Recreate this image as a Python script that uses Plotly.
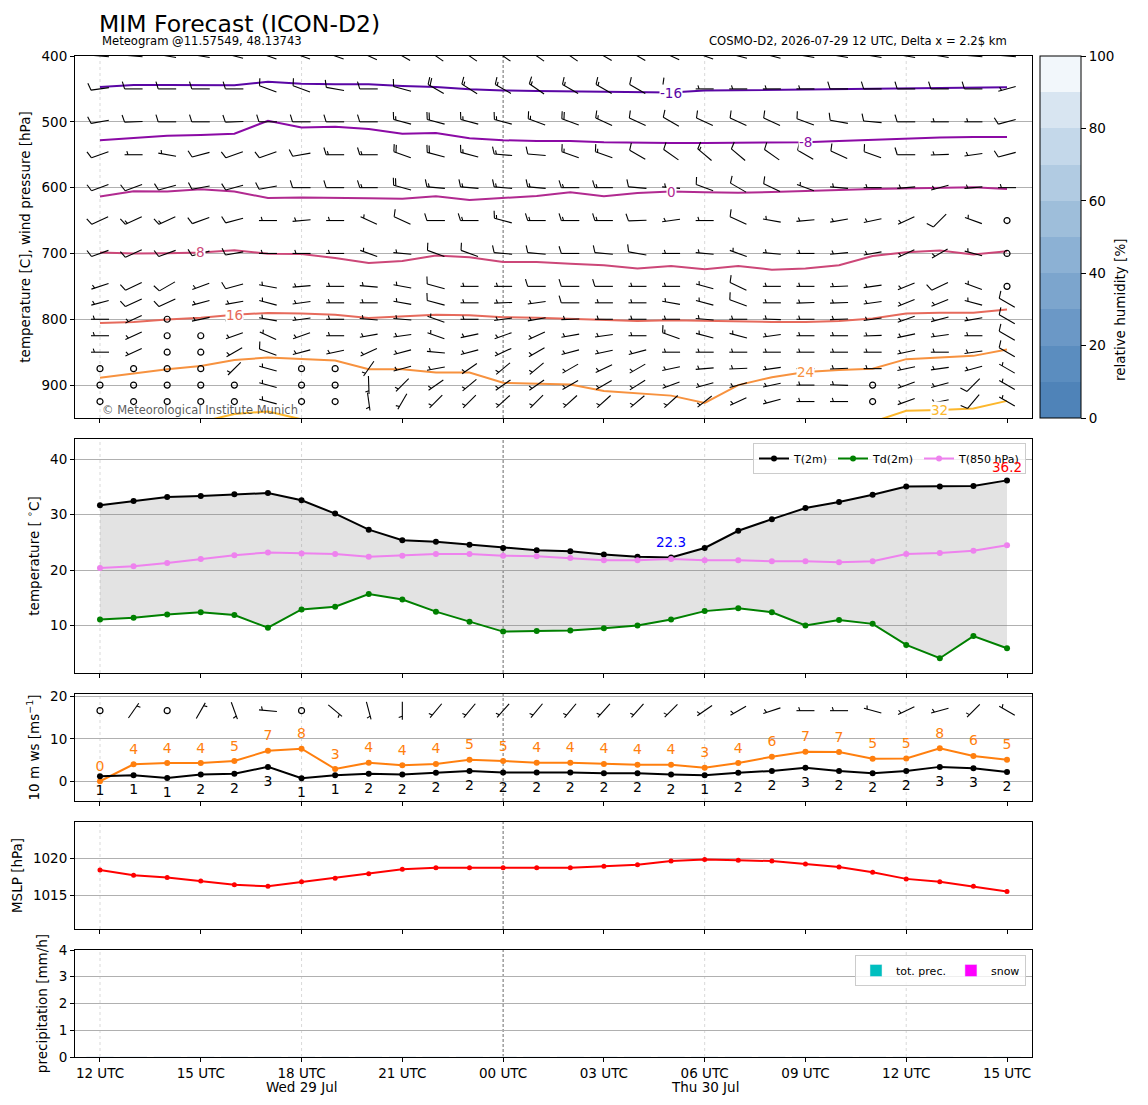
import numpy as np
import plotly.graph_objects as go

# ---------------------------------------------------------------- data
hours = list(range(28))  # hours since 2026-07-29 12 UTC
tick_hours = [0, 3, 6, 9, 12, 15, 18, 21, 24, 27]
tick_labels = ["12 UTC", "15 UTC", "18 UTC", "21 UTC", "00 UTC",
               "03 UTC", "06 UTC", "09 UTC", "12 UTC", "15 UTC"]
day_hours = [6, 18]
day_labels = ["Wed 29 Jul", "Thu 30 Jul"]

t2m = [31.7, 32.5, 33.2, 33.4, 33.7, 33.9, 32.6, 30.2, 27.3, 25.4, 25.1, 24.6, 24.0, 23.6,
       23.4, 22.8, 22.4, 22.3, 24.0, 27.1, 29.2, 31.2, 32.3, 33.6, 35.1, 35.1, 35.2, 36.2]
td2m = [11.1, 11.4, 12.0, 12.4, 11.9, 9.6, 12.9, 13.4, 15.7, 14.7, 12.5, 10.7, 8.9, 9.0,
        9.1, 9.5, 10.0, 11.1, 12.6, 13.1, 12.4, 10.0, 11.0, 10.3, 6.5, 4.1, 8.1, 5.9]
t850 = [20.4, 20.7, 21.3, 22.0, 22.7, 23.2, 23.0, 22.9, 22.4, 22.6, 22.9, 22.9, 22.6, 22.5,
        22.2, 21.8, 21.8, 22.0, 21.8, 21.8, 21.6, 21.6, 21.4, 21.6, 22.9, 23.1, 23.5, 24.5]

ws10 = [1.2, 1.4, 0.8, 1.6, 1.8, 3.4, 0.7, 1.4, 1.8, 1.6, 2.0, 2.4, 2.1, 2.1,
        2.1, 1.9, 1.9, 1.6, 1.45, 2.0, 2.45, 3.2, 2.4, 1.9, 2.45, 3.4, 3.1, 2.2]
gust10 = [0.0, 4.0, 4.3, 4.3, 4.8, 7.2, 7.7, 2.9, 4.4, 3.8, 4.1, 5.1, 4.8, 4.4,
          4.4, 4.1, 3.9, 3.9, 3.2, 4.3, 5.8, 7.0, 6.9, 5.3, 5.4, 7.8, 6.0, 5.1]
wd10 = [0, 35, 0, 30, 160, 275, 0, 130, 165, 180, 220, 220, 222, 220,
        220, 222, 222, 225, 235, 240, 252, 270, 270, 285, 245, 255, 225, 300]

mslp = [1018.4, 1017.7, 1017.4, 1016.9, 1016.4, 1016.2, 1016.8, 1017.3, 1017.9, 1018.5,
        1018.7, 1018.7, 1018.7, 1018.7, 1018.7, 1018.9, 1019.1, 1019.6, 1019.8, 1019.7,
        1019.6, 1019.2, 1018.8, 1018.1, 1017.2, 1016.8, 1016.2, 1015.5]

tot_prec = [0.0] * 28
snow = [0.0] * 28

# isotherms: pressure [hPa] of each isotherm at every hour
iso_m16 = [447, 444, 444, 444.5, 444.5, 439, 442, 443, 443, 445.5, 447, 450.5, 452.5, 453,
           453.5, 455, 455.5, 455.5, 452.5, 452, 451, 451, 450, 449, 449, 449, 448.5, 447.5]
iso_m8 = [528, 524, 521, 520, 518, 498.5, 508.5, 507.5, 511, 518, 517, 525, 528, 529,
          529, 531, 532, 532, 532, 532, 532, 531, 529, 527, 526, 524, 523, 523]
iso_0 = [613.6, 605.6, 606, 602.5, 606, 615.7, 615, 615, 616, 617, 613, 618.7, 616, 612.6,
         607, 613, 608, 606, 607, 607.6, 606.6, 604.5, 603.5, 602, 601, 600, 599.5, 602]
iso_8 = [698.5, 700, 699.5, 698.5, 695, 700.5, 701, 707, 714.6, 711.6, 703, 705.6, 713, 713,
         715.7, 718, 723, 719, 724, 719, 724.7, 723, 718, 704, 698, 695.5, 701.5, 696.5]
iso_16 = [805.6, 804, 800.5, 797.5, 793, 790.4, 791.4, 793, 798, 795.5, 793, 794, 797, 797.5,
          799, 801.5, 802.5, 801.5, 802.5, 802.5, 804, 804, 802.5, 799, 791.4, 790, 790, 785]
iso_24 = [889, 882, 876, 871, 862, 858, 860.6, 862.6, 876, 876, 881, 881, 896.5, 897.5,
          899, 909, 912.6, 916, 927, 900, 888, 880, 877, 875, 860.6, 858, 855.6, 846]
iso_32 = [None, None, None, 956, 944, 940, 952, None, None, None, None, None, None, None,
          None, None, None, None, None, None, None, None, None, 956, 939, 938, 935.5, 924]
iso_values = [-16, -8, 0, 8, 16, 24, 32]
iso_colors = ["#5a06a5", "#8b0aa5", "#b12a90", "#cc4778", "#e66a5c", "#f7923f", "#fcb72c"]
iso_label_hour = [17, 21, 17, 3, 4, 21, 25]

# upper-air wind: levels [hPa], direction [deg], speed [kt]
levels = [400, 450, 500, 550, 600, 650, 700, 750, 775, 800, 825, 850, 875, 900, 925]
wdir = [
    [275, 275, 280, 280, 285, 290, 290, 290, 295, 300, 305, 305, 305, 305, 305, 300, 300, 295, 290, 285, 285, 280, 280, 280, 280, 280, 275, 275],
    [262, 270, 270, 270, 270, 290, 290, 280, 270, 285, 300, 302, 300, 305, 300, 300, 300, 295, 270, 270, 270, 270, 270, 270, 270, 270, 270, 255],
    [260, 268, 270, 270, 268, 270, 270, 270, 270, 285, 285, 285, 285, 290, 290, 295, 295, 300, 295, 295, 295, 290, 280, 275, 270, 270, 270, 255],
    [250, 270, 280, 255, 250, 250, 260, 270, 270, 290, 285, 285, 275, 275, 290, 290, 300, 305, 310, 310, 305, 300, 295, 290, 270, 268, 262, 255],
    [250, 250, 255, 260, 255, 260, 270, 270, 270, 285, 275, 275, 275, 275, 270, 270, 275, 275, 290, 300, 295, 290, 275, 270, 265, 255, 265, 270],
    [245, 245, 245, 250, 255, 270, 265, 270, 295, 295, 270, 270, 285, 270, 270, 270, 268, 262, 270, 295, 280, 265, 260, 258, 245, 225, 290, 0],
    [250, 245, 250, 255, 260, 270, 270, 270, 290, 275, 290, 290, 275, 275, 270, 275, 280, 270, 275, 290, 275, 270, 265, 260, 245, 240, 285, 0],
    [252, 245, 240, 250, 255, 280, 265, 270, 275, 280, 285, 270, 270, 270, 270, 270, 270, 270, 285, 295, 270, 270, 268, 262, 248, 245, 290, 0],
    [255, 245, 245, 255, 260, 285, 262, 270, 270, 280, 285, 270, 268, 262, 270, 270, 270, 280, 285, 290, 270, 268, 268, 262, 248, 248, 285, 300],
    [270, 245, 0, 258, 260, 280, 262, 270, 275, 275, 290, 270, 262, 260, 268, 270, 270, 270, 275, 270, 272, 270, 268, 262, 250, 255, 260, 300],
    [270, 245, 0, 0, 250, 295, 250, 270, 260, 262, 290, 258, 250, 245, 260, 262, 270, 290, 285, 285, 262, 270, 270, 268, 258, 262, 270, 300],
    [270, 245, 0, 0, 240, 290, 255, 258, 245, 255, 275, 255, 245, 240, 255, 258, 255, 270, 270, 270, 270, 270, 270, 270, 258, 270, 262, 300],
    [0, 0, 0, 0, 225, 285, 0, 0, 215, 255, 260, 235, 230, 230, 240, 245, 240, 258, 265, 268, 262, 270, 268, 270, 258, 262, 255, 300],
    [0, 0, 0, 0, 0, 285, 0, 0, 178, 225, 235, 230, 235, 235, 240, 240, 238, 250, 255, 255, 258, 270, 272, 0, 250, 255, 225, 300],
    [0, 0, 0, 0, 0, 285, 0, 0, 172, 210, 225, 225, 228, 225, 228, 228, 230, 228, 232, 245, 255, 270, 270, 0, 250, 258, 220, 300],
]
wspd = [
    [10, 10, 10, 10, 10, 10, 10, 10, 10, 10, 10, 10, 10, 10, 10, 10, 10, 10, 10, 10, 10, 10, 10, 10, 10, 10, 10, 10],
    [10, 10, 10, 10, 10, 10, 10, 10, 10, 10, 20, 15, 15, 15, 15, 15, 10, 10, 5, 5, 5, 5, 10, 10, 10, 10, 10, 5],
    [10, 10, 10, 10, 10, 10, 10, 10, 10, 15, 20, 15, 15, 15, 20, 15, 10, 10, 10, 10, 10, 10, 10, 10, 10, 5, 5, 10],
    [10, 5, 5, 10, 10, 10, 10, 15, 15, 20, 20, 15, 15, 10, 15, 15, 10, 10, 15, 10, 10, 10, 10, 10, 10, 5, 5, 10],
    [10, 10, 10, 10, 10, 10, 10, 10, 15, 20, 15, 15, 15, 15, 15, 15, 10, 5, 10, 10, 10, 5, 5, 5, 5, 5, 5, 5],
    [10, 15, 15, 10, 10, 5, 5, 5, 5, 10, 10, 15, 15, 15, 15, 15, 10, 5, 5, 10, 5, 5, 5, 5, 5, 10, 5, 0],
    [10, 10, 10, 10, 10, 5, 5, 5, 5, 5, 10, 10, 10, 10, 10, 10, 10, 5, 5, 5, 5, 5, 5, 5, 5, 5, 5, 0],
    [5, 10, 10, 5, 10, 5, 5, 5, 5, 5, 10, 5, 5, 10, 10, 10, 5, 5, 5, 10, 5, 5, 5, 5, 5, 10, 5, 0],
    [5, 10, 10, 5, 5, 5, 5, 5, 5, 5, 10, 5, 5, 5, 10, 5, 5, 5, 5, 10, 5, 5, 5, 5, 5, 5, 5, 10],
    [5, 5, 0, 5, 5, 5, 5, 5, 5, 5, 5, 5, 5, 5, 5, 5, 5, 5, 5, 5, 5, 5, 5, 5, 5, 5, 5, 10],
    [5, 5, 0, 0, 5, 5, 5, 5, 5, 5, 5, 5, 5, 5, 5, 5, 5, 15, 5, 5, 5, 5, 5, 5, 5, 5, 5, 10],
    [5, 5, 0, 0, 5, 10, 5, 5, 5, 5, 5, 5, 5, 5, 5, 5, 5, 5, 5, 5, 5, 5, 5, 5, 5, 5, 5, 10],
    [0, 0, 0, 0, 5, 5, 0, 0, 5, 5, 5, 5, 5, 5, 5, 5, 5, 5, 5, 5, 5, 5, 5, 5, 5, 5, 5, 5],
    [0, 0, 0, 0, 0, 5, 0, 0, 5, 5, 5, 5, 5, 5, 5, 5, 5, 5, 5, 5, 5, 5, 5, 0, 5, 5, 10, 5],
    [0, 0, 0, 0, 0, 5, 0, 0, 5, 5, 5, 5, 5, 5, 5, 5, 5, 5, 5, 5, 5, 5, 5, 0, 5, 5, 10, 5],
]

rh_levels = [0, 10, 20, 30, 40, 50, 60, 70, 80, 90, 100]
rh_colors = ["#4f83b8", "#5b8dbf", "#6b98c6", "#7ca5cd", "#8cb1d4",
             "#9ebeda", "#b1cbe2", "#c4d8ea", "#d8e5f1", "#f2f7fb"]

# ---------------------------------------------------------------- layout geometry
# the page body has an 8 px margin: the figure is drawn 16 px smaller and all
# reference pixel positions are shifted by that margin
PAGE_W, PAGE_H, BODY = 1148, 1105, 8
W, H = PAGE_W - 2 * BODY, PAGE_H - 2 * BODY
X0, X1 = 75, 1032
XR = [-0.744, 27.744]
PXH = (X1 - X0) / (XR[1] - XR[0])
panels = [(56, 418), (439, 673), (694, 801), (822, 929), (950, 1057)]
YR = [[950, 400], [1.43, 43.67], [-4.67, 20.64], [1010.45, 1024.86], [0, 4]]
FONT = "DejaVu Sans"


def px(xp):
    return (xp - BODY) / W


def py(yp):
    return 1 - (yp - BODY) / H


def dom(top, bottom):
    return [py(bottom), py(top)]


def ppy(i):
    top, bot = panels[i]
    return (bot - top) / abs(YR[i][1] - YR[i][0])


def barbs(xc, yc, dirs, kts, pyu, reverse, L=18.0):
    sp, fh, fw = 0.125 * L, 0.4 * L, 0.25 * L
    lx, ly, ox, oy = [], [], [], []
    for x, y, d, s in zip(xc, yc, dirs, kts):
        n = int(np.floor(s / 5.0 + 0.5))
        if n == 0:
            ox.append(x)
            oy.append(y)
            continue
        nfull, half = divmod(n, 2)
        r = np.deg2rad(d)
        sx, sy = np.sin(r), np.cos(r)
        fx, fy = sy, -sx

        def P(a, b):
            X = sx * a + fx * b
            Y = sy * a + fy * b
            return x + X / PXH, y + (-Y if reverse else Y) / pyu

        segs = [(P(-L / 2, 0), P(L / 2, 0))]
        off = L / 2
        for _ in range(nfull):
            segs.append((P(off, 0), P(off + fw / 2, fh)))
            off -= sp
        if half:
            if nfull == 0:
                off -= 1.5 * sp
            segs.append((P(off, 0), P(off + fw / 4, fh / 2)))
        for a, b in segs:
            lx += [a[0], b[0], None]
            ly += [a[1], b[1], None]
    return lx, ly, ox, oy


fig = go.Figure()

# ---------------------------------------------------------------- panel 1
iso_arrays = [iso_m16, iso_m8, iso_0, iso_8, iso_16, iso_24, iso_32]
for val, arr, col in zip(iso_values, iso_arrays, iso_colors):
    fig.add_trace(go.Scatter(x=hours, y=arr, mode="lines", line=dict(color=col, width=2),
                             xaxis="x", yaxis="y", showlegend=False, hoverinfo="skip"))

bx, by, bd, bs = [], [], [], []
for li, lev in enumerate(levels):
    for h in hours:
        bx.append(h)
        by.append(lev)
        bd.append(wdir[li][h])
        bs.append(wspd[li][h])
lx, ly, ox, oy = barbs(bx, by, bd, bs, ppy(0), True)
fig.add_trace(go.Scatter(x=lx, y=ly, mode="lines", line=dict(color="black", width=1.1),
                         xaxis="x", yaxis="y", showlegend=False, hoverinfo="skip"))
fig.add_trace(go.Scatter(x=ox, y=oy, mode="markers",
                         marker=dict(symbol="circle-open", size=6, color="black",
                                     line=dict(width=1.2, color="black")),
                         xaxis="x", yaxis="y", showlegend=False, hoverinfo="skip"))

# colorbar (relative humidity)
cs = []
for i, c in enumerate(rh_colors):
    cs.append([i / len(rh_colors), c])
    cs.append([(i + 1) / len(rh_colors), c])
fig.add_trace(go.Scatter(
    x=[None] * len(rh_levels), y=[None] * len(rh_levels), mode="markers",
    marker=dict(color=rh_levels, cmin=0, cmax=100, colorscale=cs, showscale=True,
                colorbar=dict(x=px(1040), xanchor="left", xpad=0,
                              y=py(56), yanchor="top", ypad=0,
                              len=(418 - 56) / H, lenmode="fraction",
                              thickness=41, thicknessmode="pixels",
                              outlinewidth=1, outlinecolor="black",
                              ticks="outside", ticklen=5, tickcolor="black",
                              tickvals=[0, 20, 40, 60, 80, 100],
                              tickfont=dict(size=13.5, color="black", family=FONT))),
    xaxis="x", yaxis="y", showlegend=False, hoverinfo="skip"))

# ---------------------------------------------------------------- panel 2
fig.add_trace(go.Scatter(x=hours, y=td2m, mode="lines", line=dict(width=0), xaxis="x2",
                         yaxis="y2", showlegend=False, hoverinfo="skip"))
fig.add_trace(go.Scatter(x=hours, y=t2m, mode="lines", line=dict(width=0), fill="tonexty",
                         fillcolor="rgba(128,128,128,0.22)", xaxis="x2", yaxis="y2",
                         showlegend=False, hoverinfo="skip"))
for name, arr, col in [("T(2m)", t2m, "black"), ("Td(2m)", td2m, "#008000"),
                       ("T(850 hPa)", t850, "#ee82ee")]:
    fig.add_trace(go.Scatter(x=hours, y=arr, mode="lines+markers", name=name,
                             line=dict(color=col, width=2), marker=dict(color=col, size=6),
                             xaxis="x2", yaxis="y2", legend="legend"))

# ---------------------------------------------------------------- panel 3
fig.add_trace(go.Scatter(x=hours, y=gust10, mode="lines+markers",
                         line=dict(color="#ff7f0e", width=2), marker=dict(color="#ff7f0e", size=6),
                         xaxis="x3", yaxis="y3", showlegend=False))
fig.add_trace(go.Scatter(x=hours, y=ws10, mode="lines+markers",
                         line=dict(color="black", width=2), marker=dict(color="black", size=6),
                         xaxis="x3", yaxis="y3", showlegend=False))
fig.add_trace(go.Scatter(x=hours, y=[g + 3.3 for g in gust10], mode="text",
                         text=[str(int(np.floor(g + 0.5))) for g in gust10],
                         textfont=dict(color="#ff7f0e", size=14, family=FONT),
                         xaxis="x3", yaxis="y3", showlegend=False, cliponaxis=False,
                         hoverinfo="skip"))
fig.add_trace(go.Scatter(x=hours, y=[w - 3.7 for w in ws10], mode="text",
                         text=[str(int(np.floor(w + 0.5))) for w in ws10],
                         textfont=dict(color="black", size=14, family=FONT),
                         xaxis="x3", yaxis="y3", showlegend=False, cliponaxis=False,
                         hoverinfo="skip"))
kt10 = [w * 1.94384 for w in ws10]
lx, ly, ox, oy = barbs(hours, [16.7] * len(hours), wd10, kt10, ppy(2), False)
fig.add_trace(go.Scatter(x=lx, y=ly, mode="lines", line=dict(color="black", width=1.1),
                         xaxis="x3", yaxis="y3", showlegend=False, hoverinfo="skip"))
fig.add_trace(go.Scatter(x=ox, y=oy, mode="markers",
                         marker=dict(symbol="circle-open", size=6, color="black",
                                     line=dict(width=1.2, color="black")),
                         xaxis="x3", yaxis="y3", showlegend=False, hoverinfo="skip"))

# ---------------------------------------------------------------- panel 4
fig.add_trace(go.Scatter(x=hours, y=mslp, mode="lines+markers",
                         line=dict(color="red", width=2), marker=dict(color="red", size=5),
                         xaxis="x4", yaxis="y4", showlegend=False))

# ---------------------------------------------------------------- panel 5
fig.add_trace(go.Bar(x=hours, y=tot_prec, name="tot. prec.", marker=dict(color="#00bfbf"),
                     xaxis="x5", yaxis="y5", legend="legend2"))
fig.add_trace(go.Bar(x=hours, y=snow, name="snow", marker=dict(color="#ff00ff"),
                     xaxis="x5", yaxis="y5", legend="legend2"))

# ---------------------------------------------------------------- axes
common = dict(showline=True, linecolor="black", linewidth=1, mirror=True, ticks="outside",
              ticklen=4, tickcolor="black", tickfont=dict(size=13.5, color="black", family=FONT),
              zeroline=False, automargin=False)
ytitles = ["temperature [C], wind pressure [hPa]", "temperature [ <sup>∘</sup>C]",
           "10 m ws [ms<sup>−1</sup>]", "MSLP [hPa]", "precipitation [mm/h]"]
yticks = [[400, 500, 600, 700, 800, 900], [10, 20, 30, 40], [0, 10, 20], [1015, 1020],
          [0, 1, 2, 3, 4]]
layout = {}
shapes = []
for i, (top, bot) in enumerate(panels):
    k = "" if i == 0 else str(i + 1)
    xa = dict(common, domain=[px(X0), px(X1)], range=XR, anchor="y" + k,
              tickvals=tick_hours, showgrid=False, showticklabels=(i == 4))
    if i == 4:
        xa["ticktext"] = tick_labels
    layout["xaxis" + k] = xa
    layout["yaxis" + k] = dict(common, domain=dom(top, bot), range=YR[i], anchor="x" + k,
                               tickvals=yticks[i], showgrid=True, gridcolor="#b0b0b0",
                               gridwidth=1,
                               title=dict(text=ytitles[i], standoff=7,
                                          font=dict(size=13.5, color="black", family=FONT)))
    for h in hours:
        utc = (12 + h) % 24
        if utc == 0:
            shapes.append(dict(type="line", xref="x" + k, yref="y" + k + " domain",
                               x0=h, x1=h, y0=0, y1=1, layer="below",
                               line=dict(color="#444444", width=0.8, dash="3px,2px")))
        elif utc % 6 == 0:
            shapes.append(dict(type="line", xref="x" + k, yref="y" + k + " domain",
                               x0=h, x1=h, y0=0, y1=1, layer="below",
                               line=dict(color="#cfcfcf", width=0.8, dash="dot")))

annotations = []
for val, arr, col, hl in zip(iso_values, iso_arrays, iso_colors, iso_label_hour):
    annotations.append(dict(x=hl, y=arr[hl], xref="x", yref="y", text=str(val),
                            showarrow=False, bgcolor="white", borderpad=0,
                            font=dict(size=13.5, color=col, family=FONT)))
annotations.append(dict(x=0, y=938, xref="x", yref="y", xanchor="left", yanchor="middle",
                        text="© Meteorological Institute Munich", showarrow=False,
                        font=dict(size=11.5, color="rgba(60,60,60,0.85)", family=FONT)))
imin = int(np.argmin(t2m))
imax = int(np.argmax(t2m))
annotations.append(dict(x=imin, y=t2m[imin] + 2.8, xref="x2", yref="y2",
                        text=f"{t2m[imin]:.1f}", showarrow=False,
                        font=dict(size=13.5, color="blue", family=FONT)))
annotations.append(dict(x=imax, y=t2m[imax] + 2.4, xref="x2", yref="y2",
                        text=f"{t2m[imax]:.1f}", showarrow=False,
                        font=dict(size=13.5, color="red", family=FONT)))
for dh, dl in zip(day_hours, day_labels):
    annotations.append(dict(x=dh, y=py(1087), xref="x5", yref="paper", text=dl,
                            showarrow=False, yanchor="middle",
                            font=dict(size=13.5, color="black", family=FONT)))
annotations.append(dict(x=px(1130), y=py(237), xref="paper", yref="paper",
                        text="relative humidity [%]", textangle=-90, showarrow=False,
                        font=dict(size=13.5, color="black", family=FONT)))
annotations.append(dict(x=px(98), y=py(8.5), xref="paper", yref="paper", xanchor="left",
                        yanchor="top", borderpad=0, text="MIM Forecast (ICON-D2)",
                        showarrow=False, font=dict(size=23.5, color="black", family=FONT)))
annotations.append(dict(x=px(100), y=py(41), xref="paper", yref="paper", xanchor="left",
                        yanchor="middle", text="Meteogram @11.57549, 48.13743",
                        showarrow=False, font=dict(size=11.6, color="black", family=FONT)))
annotations.append(dict(x=px(1009), y=py(41), xref="paper", yref="paper",
                        xanchor="right", yanchor="middle",
                        text="COSMO-D2, 2026-07-29 12 UTC, Delta x = 2.2$ km",
                        showarrow=False, font=dict(size=11.6, color="black", family=FONT)))

fig.update_layout(
    width=W, height=H, autosize=False,
    margin=dict(l=0, r=0, t=0, b=0, autoexpand=False),
    paper_bgcolor="white", plot_bgcolor="white",
    font=dict(family=FONT, color="black"),
    barmode="overlay",
    shapes=shapes, annotations=annotations,
    legend=dict(orientation="h", traceorder="normal", x=px(1026), xanchor="right",
                y=py(443), yanchor="top",
                bgcolor="rgba(255,255,255,0.8)", bordercolor="#cccccc", borderwidth=1,
                font=dict(size=11, family=FONT, color="black")),
    legend2=dict(orientation="h", traceorder="normal", x=px(1026), xanchor="right",
                 y=py(955), yanchor="top",
                 bgcolor="rgba(255,255,255,0.8)", bordercolor="#cccccc", borderwidth=1,
                 font=dict(size=11, family=FONT, color="black")),
    **layout,
)

fig.write_html("out.html")
